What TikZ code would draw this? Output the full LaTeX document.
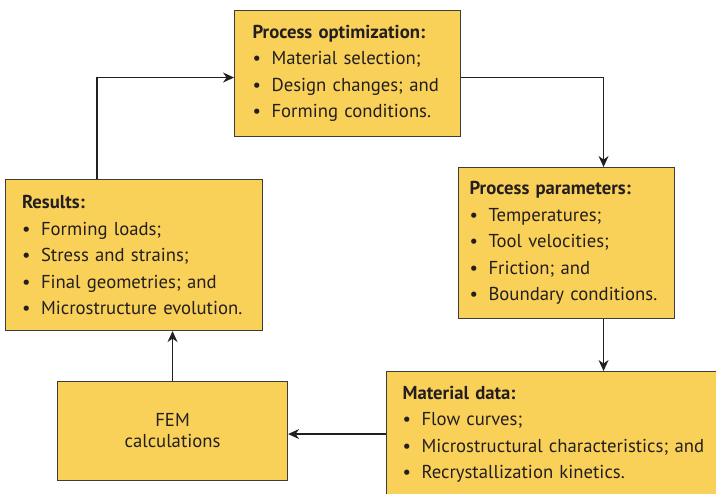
\documentclass[tikz,border=0pt]{standalone}
\usepackage{fontspec}
\setmainfont{PT Sans}
\usetikzlibrary{arrows.meta}
\definecolor{boxfill}{RGB}{250,209,88}
\definecolor{boxline}{RGB}{60,60,60}
\definecolor{inkgray}{RGB}{35,31,32}
\newcommand{\itm}[1]{\makebox[19pt][l]{\textbullet}#1}
\newcommand{\boxtitle}[1]{\textbf{#1}}
\tikzset{
  procbox/.style={draw=boxline, line width=1.1pt, fill=boxfill, text=inkgray,
    anchor=north west, align=left, inner xsep=18pt, inner ysep=6pt,
    font=\fontsize{18.7}{26.5}\selectfont},
  flow/.style={-{Stealth[length=11pt,width=10pt]}, line width=1.2pt, draw=inkgray}
}
\begin{document}
\begin{tikzpicture}[x=1pt,y=-1pt]
        \useasboundingbox (0,0) rectangle (716,494);
        \clip (0,0) rectangle (716,494);

        % Boxes
        \node[procbox, text width=190pt, minimum height=126pt, inner xsep=18pt] (opt) at (234,10)
          {\boxtitle{Process optimization:}\\ \itm{Material selection;}\\ \itm{Design changes; and}\\ \itm{Forming conditions.}};
        \node[procbox, text width=194pt, minimum height=151pt, inner xsep=11pt] (par) at (458,167)
          {\boxtitle{Process parameters:}\\ \itm{Temperatures;}\\ \itm{Tool velocities;}\\ \itm{Friction; and}\\ \itm{Boundary conditions.}};
        \node[procbox, text width=320pt, minimum height=125pt, inner xsep=16pt] (mat) at (386,371)
          {\boxtitle{Material data:}\\ \itm{Flow curves;}\\ \itm{Microstructural characteristics; and}\\ \itm{Recrystallization kinetics.}};
        \node[procbox, text width=224pt, minimum height=151pt, inner xsep=16.5pt] (res) at (5,179)
          {\boxtitle{Results:}\\ \itm{Forming loads;}\\ \itm{Stress and strains;}\\ \itm{Final geometries; and}\\ \itm{Microstructure evolution.}};
        \node[procbox, text width=194pt, minimum height=99pt, align=center,
          font=\fontsize{18.7}{21}\selectfont] (fem) at (57,381)
          {FEM\\ calculations};

        % Loop
        \draw[flow] ([xshift=92pt]res.north west) |- ([yshift=-4pt]opt.west);
        \draw[flow] ([yshift=-4pt]opt.east) -| ([xshift=37pt]par.north);
        \draw[flow] ([xshift=37pt]par.south) -- ([xshift=37pt]par.south |- mat.north);
        \draw[flow] (mat.west) -- (mat.west -| fem.east);
        \draw[flow] (fem.north) -- (fem.north |- res.south);
\end{tikzpicture}
\end{document}
